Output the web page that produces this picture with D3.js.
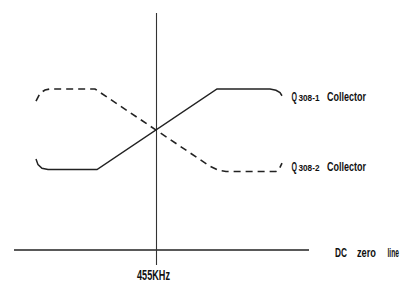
<!DOCTYPE html>
<html>
<head>
<meta charset="utf-8">
<script src="https://cdn.jsdelivr.net/npm/d3@7"></script>
<style>
  body { margin: 0; background: #fff; }
  text { font-family: "Liberation Sans", Arial, sans-serif; font-weight: bold; fill: #111; }
</style>
</head>
<body>
<div id="svg"></div>
<script>
// frequency offset from 455KHz (arbitrary units), and collector level (0 = DC zero line)
var q1Points = [[-12, 5.65], [-11.8, 5.3], [-11.4, 5.08], [-10.8, 5], [-5.9, 5], [6.1, 10],
                [11.4, 10], [12.0, 9.92], [12.4, 9.78], [12.6, 9.58]];
var q2Points = [[-12, 9.25], [-11.6, 9.73], [-11.1, 9.94], [-10.6, 10], [-6.1, 10], [5.4, 5.2],
                [6.2, 4.96], [7.0, 4.88], [12.0, 4.88], [12.3, 5.0], [12.6, 5.4]];

var seriesNames = ["Q308-1 Collector", "Q308-2 Collector"];
var centerLabel = "455KHz";
var baseLabel = "DC zero line";

var width = 401,
    height = 289;

var x = d3.scaleLinear().domain([-12, 12]).range([36, 276]);
var y = d3.scaleLinear().domain([0, 10]).range([250, 89]);

var svg = d3.select("#svg").append("svg")
    .attr("width", width)
    .attr("height", height);

// DC zero line
svg.append("line")
    .attr("x1", x(-14.2)).attr("x2", x(15.3))
    .attr("y1", y(0)).attr("y2", y(0))
    .style("stroke", "#222").style("stroke-width", 1.5);

// 455KHz marker
svg.append("line")
    .attr("x1", x(0) + 0.5).attr("x2", x(0) + 0.5)
    .attr("y1", 13).attr("y2", 265)
    .style("stroke", "#333").style("stroke-width", 1.1);

var line = d3.line()
    .x(function(d) { return x(d[0]); })
    .y(function(d) { return y(d[1]); });

svg.append("path")
    .attr("d", line(q1Points))
    .style("fill", "none").style("stroke", "#222").style("stroke-width", 1.5);

svg.append("path")
    .attr("d", line(q2Points))
    .style("fill", "none").style("stroke", "#222").style("stroke-width", 1.6)
    .style("stroke-dasharray", "7,5");

// squeezed text piece (the original lettering is very condensed):
// measure natural width, then scale horizontally to fit w
function piece(str, px, py, w, size) {
    var g = svg.append("g");
    var t = g.append("text")
        .style("font-size", size + "px")
        .text(str);
    var sx = w / t.node().getComputedTextLength();
    g.attr("transform", "translate(" + px + "," + py + ") scale(" + sx + ",1)");
}

// series labels: big Q, small number, then "Collector"
function seriesLabel(name, py) {
    var parts = name.split(" ");
    piece(parts[0].charAt(0), 291.5, py, 5.5, 12.5);
    piece(parts[0].slice(1), 298.5, py, 21, 8.5);
    piece(parts[1], 327, py, 39, 12.5);
}
seriesLabel(seriesNames[0], 100.5);
seriesLabel(seriesNames[1], 171);

var baseWords = baseLabel.split(" ");
piece(baseWords[0], 335, 257, 12, 12.5);
piece(baseWords[1], 357, 257, 19, 12.5);
piece(baseWords[2], 387.5, 257, 11.5, 12.5);

piece(centerLabel, 137, 280, 33, 15);
</script>
</body>
</html>
